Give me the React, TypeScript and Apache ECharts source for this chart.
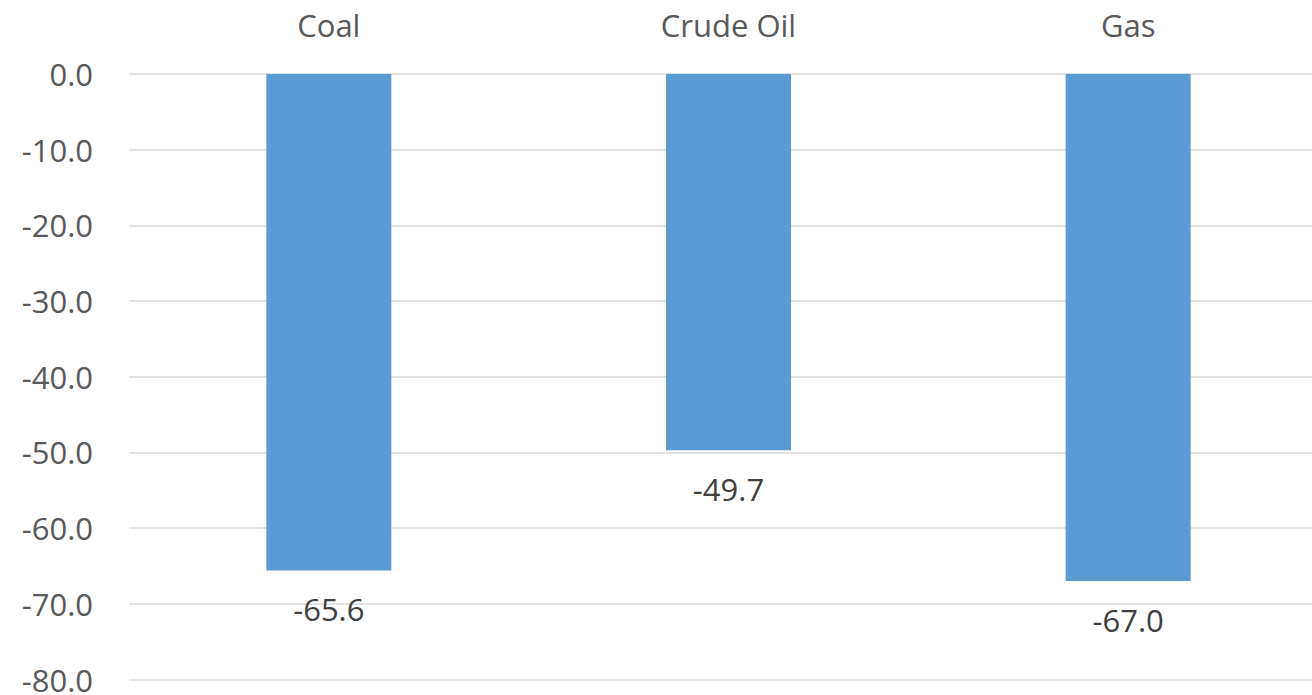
import React, { useEffect, useRef } from "react";
import * as echarts from "echarts";

const categories = ["Coal", "Crude Oil", "Gas"];
const values = [-65.6, -49.7, -67.0];
const yMin = -80;
const yMax = 0;
const yStep = 10;

export default function App() {
  const ref = useRef<HTMLDivElement>(null);

  useEffect(() => {
    if (!ref.current) return;
    const chart = echarts.init(ref.current, undefined, { renderer: "svg" });
    const font = "'Open Sans', 'Segoe UI', sans-serif";
    chart.setOption({
      animation: false,
      grid: { left: 129, right: 0, top: 74, bottom: 14, containLabel: false },
      xAxis: {
        type: "category",
        position: "top",
        data: categories,
        axisLine: { show: false },
        axisTick: { show: false },
        axisLabel: {
          color: "#595959",
          fontSize: 31,
          fontFamily: font,
          margin: 34,
        },
      },
      yAxis: {
        type: "value",
        min: yMin,
        max: yMax,
        interval: yStep,
        axisLine: { show: false },
        axisTick: { show: false },
        axisLabel: {
          color: "#595959",
          fontSize: 31,
          fontFamily: font,
          margin: 36,
          formatter: (v: number) => v.toFixed(1),
        },
        splitLine: { lineStyle: { color: "#d9d9d9", width: 1.5 } },
      },
      series: [
        {
          type: "bar",
          data: values,
          barWidth: 125,
          itemStyle: { color: "#5b9bd5" },
          label: {
            show: true,
            position: "bottom",
            distance: 23,
            color: "#404040",
            fontSize: 31,
            fontFamily: font,
            formatter: (p: any) => Number(p.value).toFixed(1),
          },
        },
      ],
    });
    return () => chart.dispose();
  }, []);

  return (
    <div
      style={{
        position: "fixed",
        left: 0,
        top: 0,
        width: 1312,
        height: 695,
        overflow: "hidden",
        background: "#fff",
      }}
    >
      <div ref={ref} style={{ width: 1328, height: 695 }} />
    </div>
  );
}
